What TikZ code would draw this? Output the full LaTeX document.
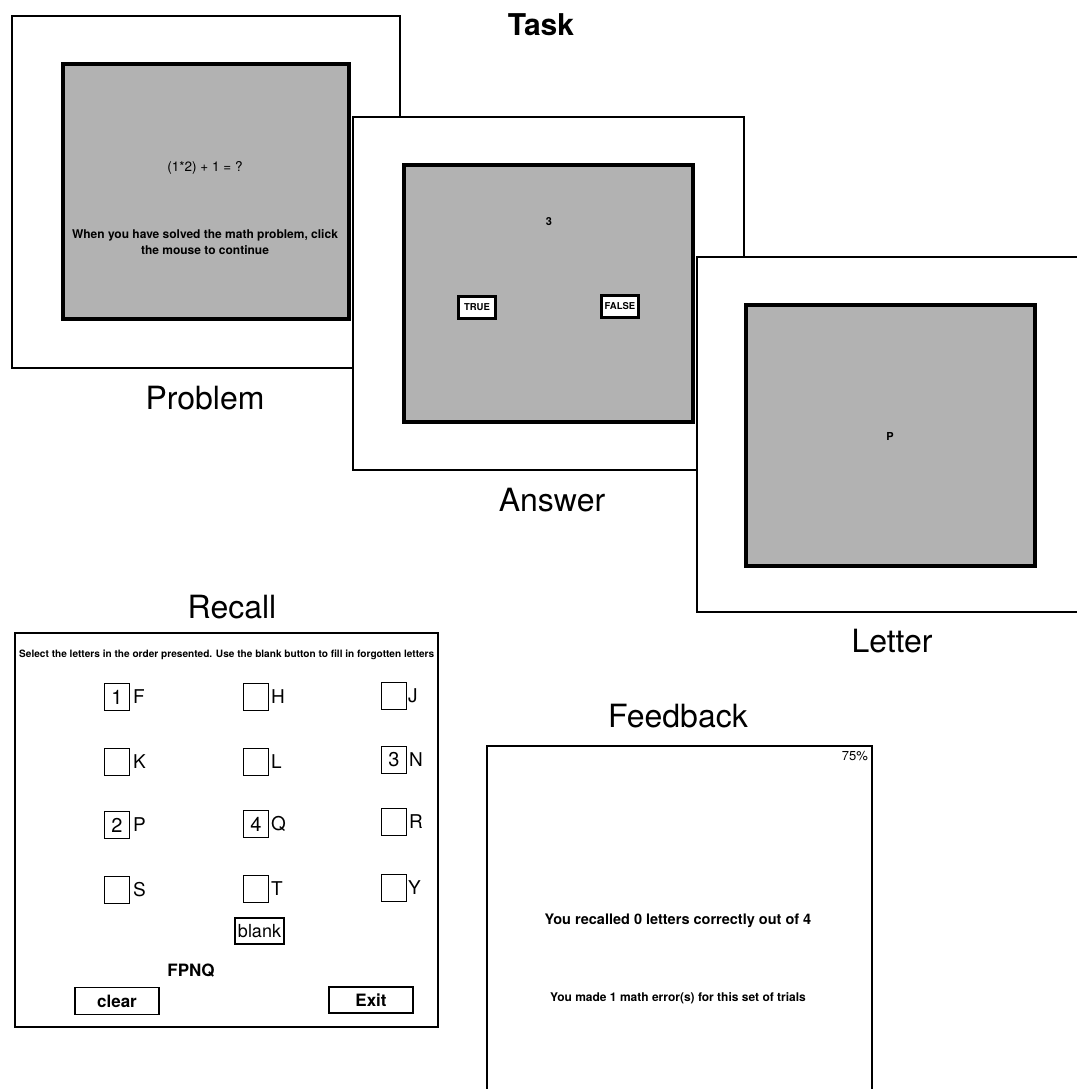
\documentclass[tikz,border=0pt]{standalone}
\usepackage{fontspec}
\setmainfont{TeX Gyre Heros}
\definecolor{scrgray}{RGB}{178,178,178}
\newcommand{\fsz}[1]{\fontsize{#1}{#1}\selectfont}
\begin{document}
\begin{tikzpicture}[x=1pt,y=-1pt,
  frame/.style={draw=black,line width=1.5pt,fill=white},
  screen/.style={draw=black,line width=4pt,fill=scrgray},
  title/.style={font=\fsz{32}, inner sep=0pt},
  cell/.style={draw,line width=1.3pt,minimum width=25pt,minimum height=27pt,inner sep=0pt,font=\fsz{20}},
  letterlab/.style={anchor=west,inner sep=0pt,font=\fsz{19}},
  btn/.style={draw,line width=1.3pt,inner sep=0pt,font=\bfseries\fsz{17}},
  tfbtn/.style={draw,line width=3pt,fill=white,inner sep=0pt,minimum width=37pt,minimum height=22pt,font=\bfseries\fsz{9.5}}]
\useasboundingbox (0,0) rectangle (1076,1089);
\fill[white] (0,0) rectangle (1076,1089);

% Task title
\node[font=\bfseries\fsz{30},inner sep=0pt] (task) at (541,25) {Task};

% Problem screen
\draw[frame] (12,16) rectangle (400,368);
\draw[screen] (63,64) rectangle (349,319);
\node[font=\fsz{13.5},inner sep=0pt] (eq) at (205,168) {(1*2) + 1 = ?};
\node[font=\bfseries\fontsize{12}{16}\selectfont,align=center,inner sep=0pt] (instr) at (205,242)
  {When you have solved the math problem, click\\the mouse to continue};
\node[title] (lprob) at (205,398) {Problem};

% Answer screen
\draw[frame] (353,117) rectangle (744,470);
\draw[screen] (404,165) rectangle (693,422);
\node[font=\bfseries\fsz{11},inner sep=0pt] (three) at (549,222) {3};
\node[tfbtn] (true) at (477,307) {TRUE};
\node[tfbtn] (false) at (620,306) {FALSE};
\node[title] (lans) at (552,500) {Answer};

% Letter screen
\draw[frame] (697,257) -- (1082,257) -- (1082,612) -- (697,612) -- cycle;
\draw[screen] (746,305) rectangle (1035,566);
\node[font=\bfseries\fsz{11},inner sep=0pt] (pl) at (890,436) {P};
\node[title] (llet) at (892,641) {Letter};

% Recall screen
\node[title] (lrec) at (232,607) {Recall};
\draw[line width=1.5pt] (15,633) rectangle (438,1027);
\node[anchor=west,font=\bfseries\fsz{10.1},inner sep=0pt] (rinstr) at (19,655)
  {Select the letters in the order presented. Use the blank button to fill in forgotten letters};
% row 1
\node[cell] (b1) at (117,697) {1}; \node[letterlab] (tF) at (133,697) {F};
\node[cell] (b2) at (256,697) {};  \node[letterlab] (tH) at (271,697) {H};
\node[cell] (b3) at (394,696) {};  \node[letterlab] (tJ) at (408,696) {J};
% row 2
\node[cell] (b4) at (117,762) {};  \node[letterlab] (tK) at (133,762) {K};
\node[cell] (b5) at (256,762) {};  \node[letterlab] (tL) at (271,762) {L};
\node[cell] (b6) at (394,760) {3}; \node[letterlab] (tN) at (409,760) {N};
% row 3
\node[cell] (b7) at (117,825) {2}; \node[letterlab] (tP) at (133,825) {P};
\node[cell] (b8) at (256,824) {4}; \node[letterlab] (tQ) at (271,824) {Q};
\node[cell] (b9) at (394,822) {};  \node[letterlab] (tR) at (409,822) {R};
% row 4
\node[cell] (b10) at (117,890) {}; \node[letterlab] (tS) at (133,890) {S};
\node[cell] (b11) at (256,889) {}; \node[letterlab] (tT) at (271,889) {T};
\node[cell] (b12) at (394,888) {}; \node[letterlab] (tY) at (408,888) {Y};
\node[draw,line width=1.3pt,inner sep=0pt,minimum width=49pt,minimum height=26pt,font=\fsz{18}] (blank) at (259.5,931) {blank};
\node[font=\bfseries\fsz{17},inner sep=0pt] (fpnq) at (191,971) {FPNQ};
\node[btn,minimum width=84pt,minimum height=27pt] (clear) at (117,1001) {clear};
\node[btn,minimum width=84pt,minimum height=26pt] (exit) at (371,1000) {Exit};

% Feedback screen
\node[title] (lfb) at (678,716) {Feedback};
\draw[line width=1.5pt] (487,1095) -- (487,746) -- (872,746) -- (872,1095);
\node[font=\fsz{13},inner sep=0pt,anchor=east] (pct) at (868,756) {75\%};
\node[font=\bfseries\fsz{14.5},inner sep=0pt] (rec) at (678,921) {You recalled 0 letters correctly out of 4};
\node[font=\bfseries\fsz{12},inner sep=0pt] (err) at (678,998) {You made 1 math error(s) for this set of trials};
\end{tikzpicture}
\end{document}
